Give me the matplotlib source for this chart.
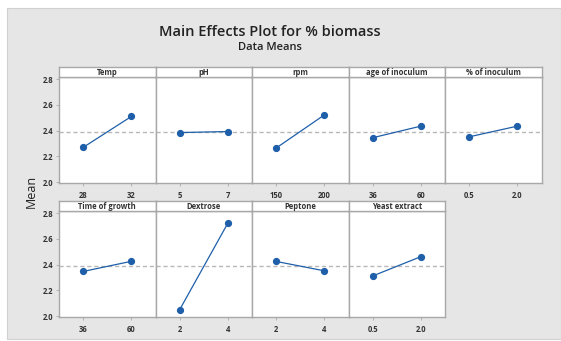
import numpy as np
import matplotlib.pyplot as plt
from matplotlib.patches import Rectangle

# factors and their level means
factors = ["Temp", "pH", "rpm", "age of inoculum", "% of inoculum",
           "Time of growth", "Dextrose", "Peptone", "Yeast extract"]
levels = [["28", "32"], ["5", "7"], ["150", "200"], ["36", "60"], ["0.5", "2.0"],
          ["36", "60"], ["2", "4"], ["2", "4"], ["0.5", "2.0"]]
means = [[2.27, 2.51], [2.385, 2.393], [2.265, 2.522], [2.345, 2.435], [2.352, 2.435],
         [2.347, 2.426], [2.05, 2.722], [2.425, 2.352], [2.312, 2.462]]
grand_mean = 2.388
yticks = [2.0, 2.2, 2.4, 2.6, 2.8]

plt.rcParams['font.family'] = ['Open Sans', 'DejaVu Sans']

W, H = 561, 341
fig = plt.figure(figsize=(W / 100, H / 100), dpi=100)
fig.patch.set_facecolor('white')
bg = Rectangle((7 / W, 1 - 339 / H), (W - 7) / W, 331 / H,
               transform=fig.transFigure, facecolor='#e6e6e6',
               edgecolor='#d0d0d0', lw=0.8, zorder=-5)
fig.patches.append(bg)

fig.text(270 / W, 1 - 32 / H, "Main Effects Plot for % biomass", ha='center', va='center',
         fontsize=10.5, fontweight='semibold', color='#222222')
fig.text(270 / W, 1 - 47 / H, "Data Means", ha='center', va='center',
         fontsize=8, fontweight='semibold', color='#222222')
fig.text(31 / W, 1 - 191 / H, "Mean", ha='center', va='center', rotation=90,
         fontsize=9, color='#222222')

x0 = 59
pw = 96.5
rows = [(77, 183), (211, 317)]
strip_h = 10
frame = '#a8a8a8'

for i, name in enumerate(factors):
    r, c = divmod(i, 5)
    top, bot = rows[r]
    left = x0 + c * pw
    ax = fig.add_axes([left / W, 1 - bot / H, pw / W, (bot - top) / H])
    ax.set_facecolor('white')
    ax.axhline(grand_mean, color='#b8b8b8', ls=(0, (3, 2)), lw=1, zorder=1)
    ax.plot([0, 1], means[i], color='#1f5faa', lw=0.9, marker='o', ms=4.2, zorder=3)
    ax.set_xlim(-0.5, 1.5)
    ax.set_ylim(1.994, 2.816)
    ax.set_xticks([0, 1])
    ax.set_xticklabels(levels[i])
    ax.set_yticks(yticks)
    if c == 0:
        ax.set_yticklabels([f"{v:.1f}" for v in yticks])
        ax.tick_params(axis='y', length=2.5, width=0.6, color=frame, labelsize=5.5, pad=1.5,
                       labelcolor='#333333')
    else:
        ax.tick_params(axis='y', left=False, labelleft=False)
    ax.tick_params(axis='x', length=2.5, width=0.6, color=frame, labelsize=5.5, pad=3,
                   labelcolor='#333333')
    for lab in ax.get_xticklabels() + ax.get_yticklabels():
        lab.set_fontweight('bold')
    for sp in ax.spines.values():
        sp.set_color(frame)
        sp.set_linewidth(1)
    # strip header
    sax = fig.add_axes([left / W, 1 - top / H, pw / W, strip_h / H])
    sax.set_facecolor('white')
    sax.set_xticks([])
    sax.set_yticks([])
    for sp in sax.spines.values():
        sp.set_color(frame)
        sp.set_linewidth(1)
    sax.text(0.5, 0.45, name, ha='center', va='center', fontsize=5.5, fontweight='bold',
             color='#333333', transform=sax.transAxes)

fig.savefig("out.png", dpi=100)
